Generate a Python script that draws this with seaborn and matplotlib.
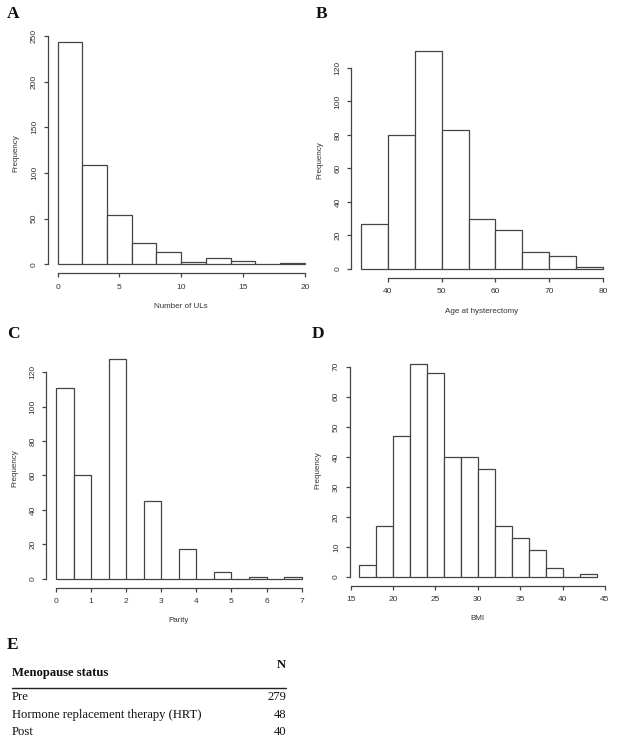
"""Four R-style histograms (A-D) plus a small menopause-status table (E)."""

import matplotlib

matplotlib.use("Agg")
import matplotlib.pyplot as plt  # noqa: E402
import numpy as np  # noqa: E402
import pandas as pd  # noqa: E402
import seaborn as sns  # noqa: E402

sns.set_style("ticks")
plt.rcParams["font.family"] = ["Liberation Sans", "DejaVu Sans"]

# A: number of ULs
ul_edges = [0, 2, 4, 6, 8, 10, 12, 14, 16, 18, 20]
ul_counts = [244, 109, 54, 23, 13, 2, 7, 4, 0, 1]

# B: age at hysterectomy
age_edges = [35, 40, 45, 50, 55, 60, 65, 70, 75, 80]
age_counts = [27, 80, 130, 83, 30, 23, 10, 8, 1]

# C: parity
parity_edges = [0, 0.5, 1, 1.5, 2, 2.5, 3, 3.5, 4, 4.5, 5, 5.5, 6, 6.5, 7]
parity_counts = [111, 60, 0, 128, 0, 45, 0, 17, 0, 4, 0, 1, 0, 1]

# D: BMI
bmi_edges = [16, 18, 20, 22, 24, 26, 28, 30, 32, 34, 36, 38, 40, 42, 44]
bmi_counts = [4, 17, 47, 71, 68, 40, 40, 36, 17, 13, 9, 3, 0, 1]

# E: menopause status table
meno_status = ["Pre", "Hormone replacement therapy (HRT)", "Post"]
meno_n = [279, 48, 40]

W, H = 617, 751
LINE = "#444444"
TXT = "#333333"


def px_axes(fig, left, top, right, bottom):
    return fig.add_axes([left / W, 1 - bottom / H, (right - left) / W, (bottom - top) / H])


def r_hist(ax, edges, counts, xticks, yticks, xlabel):
    e = np.asarray(edges, dtype=float)
    df = pd.DataFrame({"x": (e[:-1] + e[1:]) / 2, "n": counts})
    sns.histplot(
        data=df, x="x", weights="n", bins=list(edges), ax=ax,
        color="white", edgecolor=LINE, linewidth=0.9, alpha=1,
    )
    # R pads the data range by 4% on each side
    xr = e[-1] - e[0]
    ax.set_xlim(e[0] - 0.04 * xr, e[-1] + 0.04 * xr)
    ymax = max(counts)
    ax.set_ylim(-0.04 * ymax, 1.04 * ymax)
    ax.set_xticks(xticks)
    ax.set_yticks(yticks)
    ax.spines[["top", "right"]].set_visible(False)
    ax.spines["left"].set_bounds(yticks[0], yticks[-1])
    ax.spines["bottom"].set_bounds(xticks[0], xticks[-1])
    for s in ("left", "bottom"):
        ax.spines[s].set_color(LINE)
        ax.spines[s].set_linewidth(0.9)
    ax.tick_params(length=3, width=0.9, color=LINE, labelsize=6,
                   labelcolor=TXT, pad=4.5)
    ax.tick_params(axis="y", labelrotation=90, pad=4)
    for lab in ax.get_yticklabels():
        lab.set_va("center")
    ax.set_xlabel(xlabel, fontsize=5.8, color=TXT, labelpad=9)
    ax.set_ylabel("Frequency", fontsize=5.8, color=TXT, labelpad=8)


fig = plt.figure(figsize=(W / 100, H / 100), dpi=100)

ax_a = px_axes(fig, 47.6, 32.6, 314.9, 273.2)
r_hist(ax_a, ul_edges, ul_counts, [0, 5, 10, 15, 20],
       [0, 50, 100, 150, 200, 250], "Number of ULs")

ax_b = px_axes(fig, 351.3, 42.5, 612.7, 277.7)
r_hist(ax_b, age_edges, age_counts, [40, 50, 60, 70, 80],
       [0, 20, 40, 60, 80, 100, 120], "Age at hysterectomy")

ax_c = px_axes(fig, 46.2, 349.7, 311.5, 587.5)
r_hist(ax_c, parity_edges, parity_counts, [0, 1, 2, 3, 4, 5, 6, 7],
       [0, 20, 40, 60, 80, 100, 120], "Parity")

ax_d = px_axes(fig, 349.7, 355.2, 606.0, 585.5)
r_hist(ax_d, bmi_edges, bmi_counts, [15, 20, 25, 30, 35, 40, 45],
       [0, 10, 20, 30, 40, 50, 60, 70], "BMI")

serif = ["Liberation Serif", "DejaVu Serif"]
for letter, x, y in [("A", 7, 14), ("B", 316, 14), ("C", 7, 334),
                     ("D", 312, 334), ("E", 7, 645)]:
    fig.text(x / W, 1 - y / H, letter, family=serif, fontsize=12.5,
             fontweight="bold", va="center", ha="left", color="#111111")

# Table E
fs = 9.1
fig.text(12 / W, 1 - 673 / H, "Menopause status", family=serif, fontsize=fs,
         fontweight="bold", va="center", ha="left", color="#111111")
fig.text(286 / W, 1 - 665 / H, "N", family=serif, fontsize=fs,
         fontweight="bold", va="center", ha="right", color="#111111")
fig.add_artist(plt.Line2D([12 / W, 286 / W], [1 - 687.5 / H, 1 - 687.5 / H],
                          color="#222222", linewidth=1.0))
row_y = [697, 715, 732]
for name, n, y in zip(meno_status, meno_n, row_y):
    fig.text(12 / W, 1 - y / H, name, family=serif, fontsize=fs,
             va="center", ha="left", color="#111111")
    fig.text(286 / W, 1 - y / H, str(n), family=serif, fontsize=fs,
             va="center", ha="right", color="#111111")

fig.savefig("out.png", dpi=100)
